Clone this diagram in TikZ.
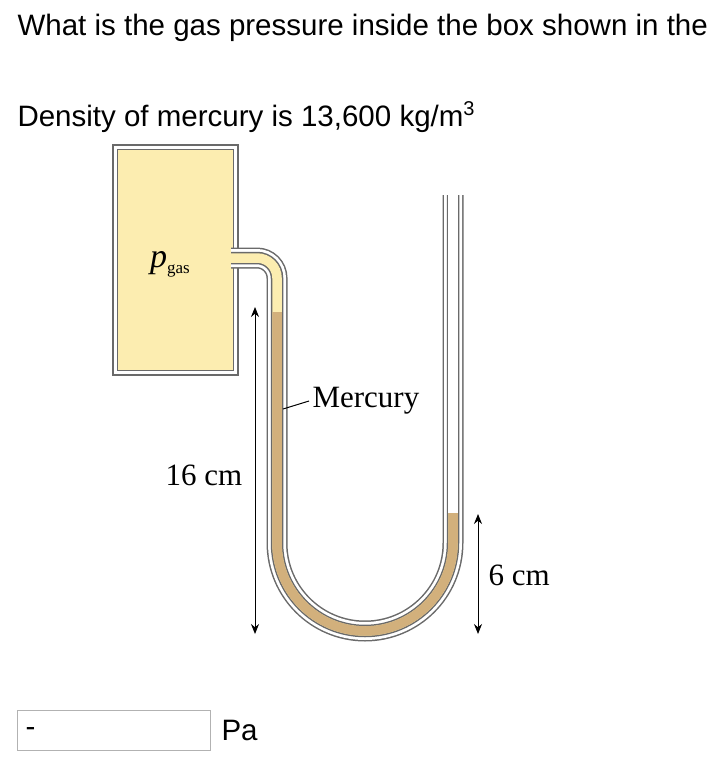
\documentclass[tikz,border=0pt]{standalone}
\usepackage{fontspec}
\usetikzlibrary{arrows.meta}
\setmainfont{Liberation Serif}
\newfontfamily\hv{Liberation Sans}
\begin{document}
\begin{tikzpicture}[x=1pt,y=1pt]
\definecolor{gasy}{HTML}{FCEDB0}
\definecolor{merc}{HTML}{D2B07C}
\definecolor{wall}{HTML}{6A6A6A}
\tikzset{hdr/.style={anchor=west,font=\hv\fontsize{29.5}{34}\selectfont},
lab/.style={font=\fontsize{31}{34}\selectfont},
dim/.style={<->,>={Stealth[length=10pt,width=8pt]},line width=1pt}}
\useasboundingbox (0,0) rectangle (712,-784);
\node[hdr] (q) at (14,-28) {What is the gas pressure inside the box shown in the};
\node[hdr] (d) at (14,-117) {Density of mercury is 13,600 kg/m\raisebox{0.75ex}{\fontsize{20}{22}\selectfont 3}};
% box
\node[draw=wall,line width=1.5pt,fill=white,minimum width=125pt,minimum height=230pt,inner sep=0pt] (boxo) at (175.5,-260) {};
\node[draw=wall,line width=1.3pt,fill=gasy,minimum width=116pt,minimum height=221pt,inner sep=0pt] (boxi) at (175.5,-260) {};
\node[font=\itshape\fontsize{34}{36}\selectfont] (pg) at (170,-264) {p\raisebox{-0.4ex}{\upshape\fontsize{17}{18}\selectfont gas}};
% tube
\coordinate (t0) at (231,-258);
\coordinate (t1) at (257,-258);
\coordinate (rt) at (453,-195);
\foreach \w/\c in {21/wall,18/white,12.5/wall,9.5/gasy}
 \draw[line width=\w pt,\c] (t0) -- (t1) arc[start angle=90,end angle=0,radius=20] -- (277,-543) arc[start angle=180,end angle=360,radius=88] -- (rt);
\draw[line width=9.5pt,merc] (277,-312) -- (277,-543) arc[start angle=180,end angle=360,radius=88] -- (453,-513);
\draw[line width=9.5pt,white] (453,-513) -- (453,-193);
% dims
\coordinate (a1) at (255,-307); \coordinate (a2) at (255,-634);
\draw[dim] (a1) -- (a2);
\node[lab] (l16) at (204,-475) {16 cm};
\coordinate (b1) at (478,-514); \coordinate (b2) at (478,-634);
\draw[dim] (b1) -- (b2);
\node[lab,anchor=west] (l6) at (485,-575) {6 cm};
\node[lab,anchor=west] (lm) at (309,-401) {Mercury};
\coordinate (m0) at (283,-409);
\draw[line width=1pt] (m0) -- (lm.west);
% answer
\node[draw=gray!60,minimum width=193pt,minimum height=40pt,inner sep=0pt] (ans) at (113.5,-730) {};
\node[hdr] (dash) at (22,-732) {-};
\node[hdr] (pa) at (218,-730) {Pa};
\end{tikzpicture}
\end{document}
